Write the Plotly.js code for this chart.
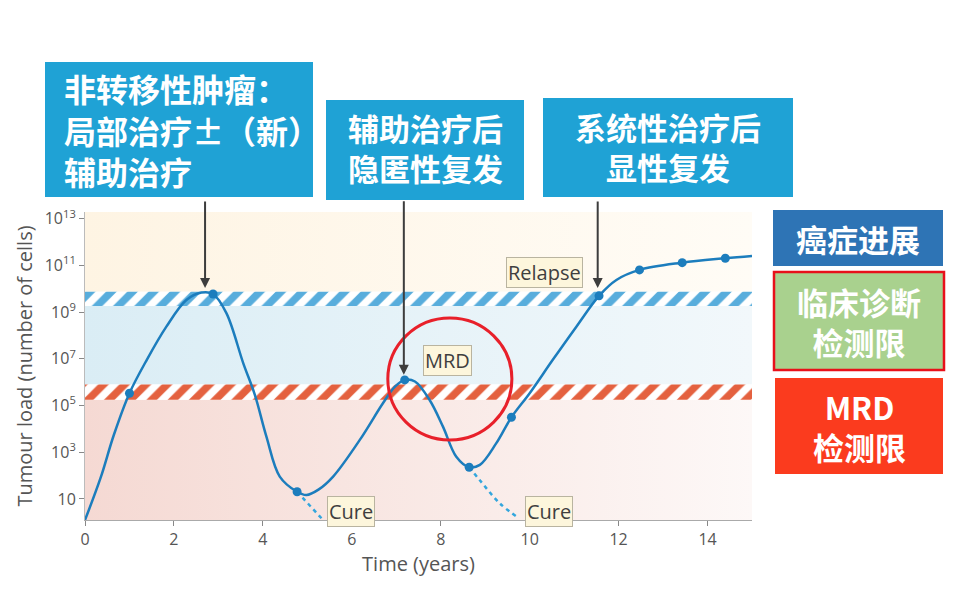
<!DOCTYPE html>
<html>
<head>
<meta charset="utf-8">
<script src="https://cdn.plot.ly/plotly-3.0.1.min.js"></script>
<style>html,body{margin:0;padding:0;background:#fff}#chart{width:960px;height:604px}</style>
</head>
<body>
<div id="chart"></div>
<script>
// ---- data (y values are log10 of tumour load) ----
const curveX = [0, 0.35, 0.65, 1.0, 1.39, 1.83, 2.28, 2.62, 2.88, 3.18, 3.56, 3.82, 4.08, 4.38, 4.77, 4.98, 5.25, 5.58, 6.18, 6.70, 6.97, 7.19, 7.42, 7.75, 8.05, 8.35, 8.64, 8.88, 9.25, 9.59, 10.0, 10.52, 11.05, 11.56, 11.95, 12.47, 13.43, 14.4, 15.0];
const curveY = [0.1, 1.9, 3.75, 5.53, 6.96, 8.38, 9.52, 9.84, 9.78, 8.96, 6.81, 5.46, 3.67, 1.96, 1.31, 1.17, 1.4, 1.96, 3.53, 5.10, 5.81, 6.10, 6.03, 5.24, 4.10, 2.81, 2.36, 2.46, 3.39, 4.50, 5.53, 6.96, 8.38, 9.70, 10.38, 10.81, 11.12, 11.31, 11.41];
const dotX = [1.0, 2.88, 4.77, 7.19, 8.64, 9.59, 11.56, 12.47, 13.43, 14.4];
const dotY = [5.53, 9.78, 1.31, 6.10, 2.36, 4.50, 9.70, 10.81, 11.12, 11.31];
const cure1X = [4.77, 5.05, 5.33];
const cure1Y = [1.31, 0.75, 0.15];
const cure2X = [8.64, 8.88, 9.33, 9.74];
const cure2Y = [2.36, 1.80, 0.81, 0.2];
// zone limits (log10 cells)
const pinkZone = [0.1, 5.25];
const mrdHatch = [5.25, 5.9];
const blueZone = [5.9, 9.26];
const clinHatch = [9.26, 9.87];
const yellowZone = [9.87, 13.29];
const xSpan = [0, 15];
const yTickVals = [1, 3, 5, 7, 9, 11, 13];
const yTickText = ['10', '10<sup>3</sup>', '10<sup>5</sup>', '10<sup>7</sup>', '10<sup>9</sup>', '10<sup>11</sup>', '10<sup>13</sup>'];
const xTickVals = [0, 2, 4, 6, 8, 10, 12, 14];

function band(z, extra) {
  return Object.assign({
    x: [xSpan[0], xSpan[1], xSpan[1], xSpan[0], xSpan[0]],
    y: [z[0], z[0], z[1], z[1], z[0]],
    type: 'scatter', mode: 'lines', fill: 'toself',
    line: {width: 0}, hoverinfo: 'skip', showlegend: false
  }, extra);
}

const traces = [
  band(pinkZone, {fillcolor: '#f7e1dc', fillgradient: {type: 'horizontal', colorscale: [[0, '#f5d9d3'], [1, '#fdf8f7']]}}),
  band(blueZone, {fillcolor: '#e4f1f8', fillgradient: {type: 'horizontal', colorscale: [[0, '#daedf5'], [1, '#f2f8fb']]}}),
  band(yellowZone, {fillcolor: '#fef6e8', fillgradient: {type: 'horizontal', colorscale: [[0, '#fef4e3'], [1, '#fffcf6']]}}),
  band(mrdHatch, {fillcolor: '#ffffff', fillpattern: {shape: '/', bgcolor: '#ffffff', fgcolor: '#e4613f', size: 15, solidity: 0.5}}),
  band(clinHatch, {fillcolor: '#ffffff', fillpattern: {shape: '/', bgcolor: '#ffffff', fgcolor: '#58addc', size: 15, solidity: 0.5}}),
  {x: cure1X, y: cure1Y, type: 'scatter', mode: 'lines', line: {color: '#33a6dd', width: 2.5, dash: '4px,4px'}, hoverinfo: 'skip', showlegend: false},
  {x: cure2X, y: cure2Y, type: 'scatter', mode: 'lines', line: {color: '#33a6dd', width: 2.5, dash: '4px,4px', shape: 'spline'}, hoverinfo: 'skip', showlegend: false},
  {x: curveX, y: curveY, type: 'scatter', mode: 'lines', line: {color: '#1c7dbd', width: 2.5, shape: 'spline', smoothing: 1}, showlegend: false},
  {x: dotX, y: dotY, type: 'scatter', mode: 'markers', marker: {color: '#1c7dbd', size: 9}, showlegend: false}
];

const L = 85, R = 752, T = 212, B = 520;
const px = v => (v - L) / (R - L);
const py = v => (B - v) / (B - T);

function box(x0, x1, y0, y1, color, lineColor) {
  return {type: 'rect', xref: 'paper', yref: 'paper', x0: px(x0), x1: px(x1), y0: py(y1), y1: py(y0),
    fillcolor: color, line: lineColor ? {color: lineColor, width: 2.5} : {width: 0}, layer: 'above'};
}

const cjk = (size) => ({family: '"Noto Sans CJK SC", sans-serif', size: size, color: '#ffffff'});
const labelFont = {family: '"Open Sans", sans-serif', size: 20, color: '#3f3f3f'};
const tag = (text, x, y) => ({text: text, x: x, y: y, xref: 'x', yref: 'y', showarrow: false,
  bgcolor: '#fdf6dc', bordercolor: '#b9b4a0', borderwidth: 1, borderpad: 1, font: labelFont});
const arrow = (x, y, ay) => ({text: '', x: x, y: y, xref: 'x', yref: 'y', showarrow: true, ax: 0, ay: ay,
  arrowhead: 2, arrowsize: 1, arrowwidth: 2, arrowcolor: '#3d3d3d', standoff: 0});

const layout = {
  width: 960, height: 604,
  margin: {l: L, r: 960 - R, t: T, b: 604 - B},
  paper_bgcolor: '#ffffff', plot_bgcolor: '#ffffff',
  font: {family: '"Open Sans", sans-serif', color: '#555555'},
  xaxis: {range: xSpan, tickvals: xTickVals, ticks: 'outside', ticklen: 5, tickcolor: '#888', showgrid: false, zeroline: false,
    showline: true, linecolor: '#aaaaaa', linewidth: 1, tickfont: {size: 16, color: '#555'},
    title: {text: 'Time (years)', font: {size: 20, color: '#555'}, standoff: 6}},
  yaxis: {range: [0.1, 13.29], tickvals: yTickVals, ticktext: yTickText, ticks: 'outside', ticklen: 5, tickcolor: '#888',
    showgrid: false, zeroline: false, showline: true, linecolor: '#bbbbbb', linewidth: 1, tickfont: {size: 16, color: '#555'},
    title: {text: 'Tumour load (number of cells)', font: {size: 20, color: '#555'}, standoff: 6}},
  shapes: [
    {type: 'circle', xref: 'x', yref: 'y', x0: 6.81, x1: 9.6, y0: 3.53, y1: 8.75, line: {color: '#e8202a', width: 3}, layer: 'above'},
    box(45, 313, 62, 197, '#1fa2d5'),
    box(326, 524, 100, 200, '#1fa2d5'),
    box(543, 793, 98, 197, '#1fa2d5'),
    box(773, 943, 210, 266, '#2e74b5'),
    box(774, 944, 272, 370, '#a9d18e', '#e8101a'),
    box(775, 943, 378, 474, '#fb3b1e')
  ],
  annotations: [
    arrow(2.70, 10.04, -88),
    arrow(7.17, 6.32, -175),
    arrow(11.53, 10.04, -88),
    tag('Relapse', 10.34, 10.72),
    tag('MRD', 8.16, 6.92),
    tag('Cure', 5.98, 0.45),
    tag('Cure', 10.43, 0.45),
    {text: '<b>非转移性肿瘤：<br>局部治疗±（新）<br>辅助治疗</b>', xref: 'paper', yref: 'paper', x: px(62), y: py(129),
      xanchor: 'left', yanchor: 'middle', align: 'left', showarrow: false, font: cjk(32)},
    {text: '<b>辅助治疗后<br>隐匿性复发</b>', xref: 'paper', yref: 'paper', x: px(425), y: py(148),
      xanchor: 'center', yanchor: 'middle', align: 'center', showarrow: false, font: cjk(31)},
    {text: '<b>系统性治疗后<br>显性复发</b>', xref: 'paper', yref: 'paper', x: px(668), y: py(146),
      xanchor: 'center', yanchor: 'middle', align: 'center', showarrow: false, font: cjk(31)},
    {text: '<b>癌症进展</b>', xref: 'paper', yref: 'paper', x: px(858), y: py(238),
      xanchor: 'center', yanchor: 'middle', showarrow: false, font: cjk(31)},
    {text: '<b>临床诊断<br>检测限</b>', xref: 'paper', yref: 'paper', x: px(859), y: py(321),
      xanchor: 'center', yanchor: 'middle', align: 'center', showarrow: false, font: cjk(31)},
    {text: '<b>MRD<br>检测限</b>', xref: 'paper', yref: 'paper', x: px(859), y: py(426),
      xanchor: 'center', yanchor: 'middle', align: 'center', showarrow: false, font: cjk(31)}
  ]
};

Plotly.newPlot('chart', traces, layout, {staticPlot: true, displayModeBar: false});
</script>
</body>
</html>
